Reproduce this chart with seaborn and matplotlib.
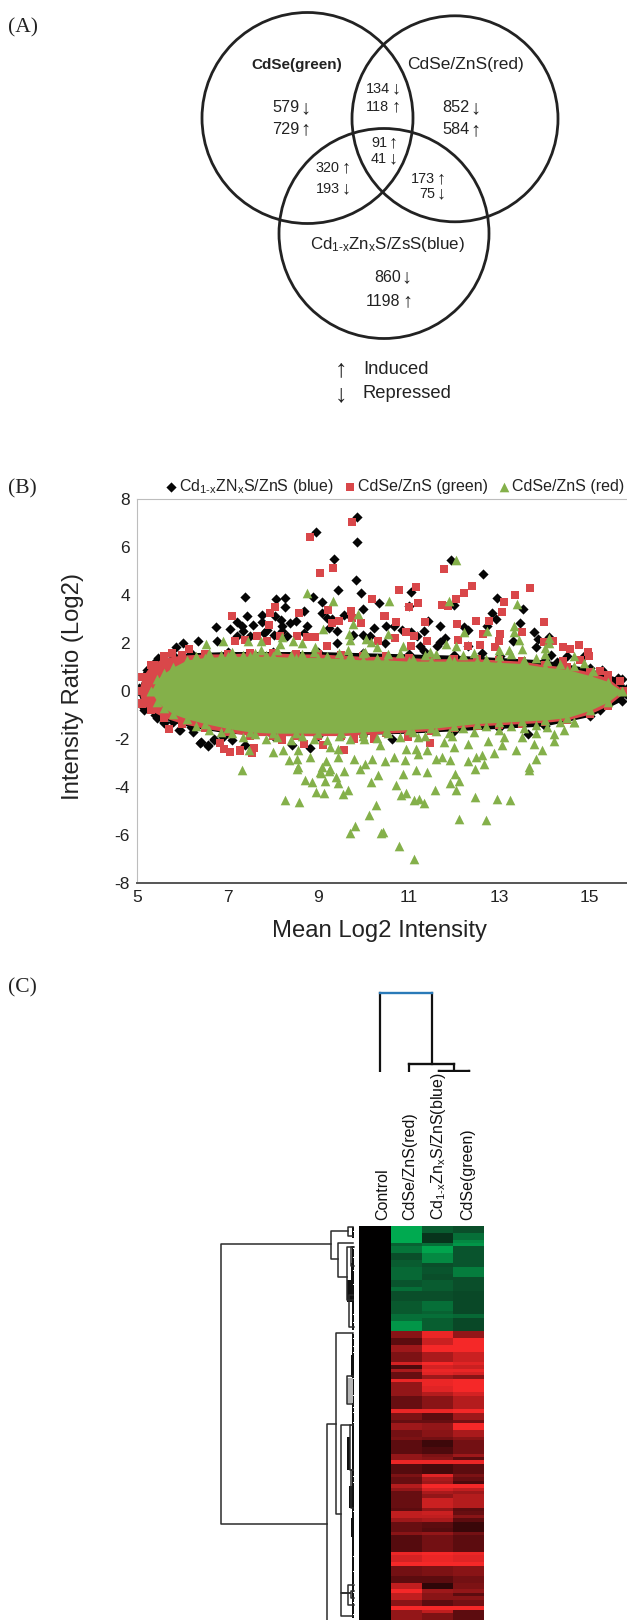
import numpy as np
import seaborn as sns
from matplotlib import pyplot as plt
from matplotlib.colors import LinearSegmentedColormap
from matplotlib.patches import Circle

W, H = 627, 1620

##########################################
# (A) venn counts
##########################################
venn_circles = [(307.5, 118, 105.5), (455, 118.8, 103), (384, 233.5, 105)]
venn_numbers = ["579", "729", "852", "584", "134", "118", "91", "41",
                "320", "193", "173", "75", "860", "1198"]
venn_arrows = ["↓", "↑", "↓", "↑", "↓", "↑", "↑", "↓", "↑", "↓", "↑", "↓", "↓", "↑"]
venn_sizes = [11.7, 11.7, 11.7, 11.7, 10.4, 10.4, 10.4, 10.4,
              10.4, 10.4, 10.4, 10.4, 11.5, 11.5]
venn_num_x = [272, 272, 442, 442, 366, 366, 371, 371, 316, 316, 411, 419, 374, 366]
venn_num_y = [108, 129, 108, 130, 89, 107, 143, 159, 168, 189, 179, 194, 277, 301]

##########################################
# (B) MA plot
##########################################
blue_x = [9.86, 8.95, 9.86, 9.36, 9.84, 9.44, 9.94, 8.89, 9.08, 7.39, 8.06, 8.26, 8.27, 9.99, 8.69, 9.08,
          7.44, 7.75, 6.74, 7.06, 7.21, 7.32, 7.56, 7.76, 8.04, 8.18, 8.21, 8.38, 8.5, 8.75, 9.19, 9.3,
          9.56, 9.71, 9.41, 9.23, 10.24, 10.34, 5.87, 6.02, 6.35, 6.77, 7.21, 7.5, 7.8, 8.02, 8.31, 5.46,
          5.22, 5.15, 5.04, 10.0, 10.15, 9.41, 9.78, 7.35, 7.87, 8.2, 8.68,
          11.93, 12.63, 11.06, 12.96, 12.0, 11.01, 13.52, 12.84, 12.93, 11.43, 11.7, 10.5, 10.67, 13.45,
          12.21, 12.31, 12.73, 11.33, 10.85, 11.04, 11.18, 13.77, 13.85, 13.3, 11.81, 11.7, 11.62, 12.32,
          13.8, 11.26, 11.33, 14.15, 14.49, 14.86, 14.27, 15.27, 15.63, 14.09, 13.02, 12.62, 10.48,
          6.4, 6.56, 5.92, 5.6, 5.44, 5.16, 6.23, 6.69, 6.91, 7.1, 7.39, 6.41, 6.57, 6.7, 5.95, 5.6,
          10.63, 8.82, 8.43, 13.64, 15.22]
blue_y = [7.24, 6.63, 6.2, 5.51, 4.63, 4.2, 4.1, 3.9, 3.7, 3.92, 3.84, 3.88, 3.51, 3.4, 3.33, 3.26,
          3.13, 3.16, 2.67, 2.59, 2.87, 2.7, 2.77, 2.87, 3.12, 2.98, 2.7, 2.84, 2.91, 2.7, 3.05, 3.01,
          3.19, 3.12, 2.49, 2.63, 2.63, 3.65, 1.84, 2.01, 2.08, 2.08, 2.29, 2.29, 2.42, 2.35, 2.29, 1.38,
          0.9, 0.62, 0.13, 2.35, 2.29, 2.01, 2.35, 2.5, 2.56, 2.5, 2.42,
          5.44, 4.88, 4.12, 3.86, 3.6, 3.54, 3.44, 3.26, 3.01, 2.91, 2.73, 2.7, 2.73, 2.84,
          2.67, 2.54, 2.73, 2.49, 2.56, 2.45, 2.29, 2.45, 2.19, 2.08, 2.22, 2.04, 1.87, 1.87,
          1.83, 1.87, 1.66, 1.49, 1.45, 1.45, 1.2, 0.9, 0.55, 2.26, 1.45, 1.6, 2.01,
          -2.16, -2.3, -1.63, -1.33, -1.12, -0.77, -1.68, -2.02, -1.91, -2.02, -2.23, -2.12, -2.26, -1.98, -1.6, -1.29,
          -1.98, -2.36, -2.26, -1.78, -0.8]

green_x = [9.75, 8.83, 9.32, 9.05, 8.05, 8.57, 7.93, 7.1, 9.21, 10.2, 9.73, 9.46, 9.3, 7.91, 9.94, 9.75,
           6.14, 5.77, 5.59, 7.17, 7.39, 7.65, 7.87, 8.16, 8.53, 8.75, 8.94, 9.19, 10.45, 10.33, 5.37, 5.22,
           11.77, 11.15, 10.78, 12.39, 12.21, 12.04, 13.67, 13.35, 13.1, 11.2, 11.0, 11.74, 11.86, 13.07,
           10.47, 10.73, 11.35, 12.07, 12.48, 12.78, 13.99, 13.5, 12.65, 13.01, 10.93, 11.11, 11.4, 12.09,
           12.58, 12.99, 13.98, 14.18, 14.4, 14.75, 14.57, 14.95, 14.99, 14.79, 14.4, 10.7, 11.04, 12.32,
           12.91, 15.23, 15.41, 15.67,
           5.71, 6.84, 6.93, 7.05, 7.27, 7.54, 7.58, 5.07, 7.54, 7.28, 9.11, 9.57, 10.24, 10.24, 10.99,
           11.47, 8.69, 9.8, 8.2]
green_y = [7.04, 6.4, 5.12, 4.9, 3.51, 3.26, 3.24, 3.13, 3.36, 3.84, 3.33, 2.91, 2.84, 2.77, 2.84, 3.05,
           1.76, 1.59, 1.45, 2.08, 2.15, 2.29, 2.08, 2.29, 2.31, 2.26, 2.26, 1.87, 3.12, 2.08, 1.1, 0.34,
           5.1, 4.35, 4.2, 4.38, 4.09, 3.84, 4.29, 4.02, 3.73, 3.67, 3.49, 3.6, 3.54, 3.31,
           3.12, 2.87, 2.87, 2.81, 2.9, 2.9, 2.87, 2.48, 2.4, 2.4, 2.45, 2.31, 2.08, 2.12,
           1.92, 2.08, 2.04, 2.08, 1.84, 1.91, 1.77, 1.63, 1.48, 1.31, 1.24, 2.22, 1.9, 1.87,
           1.83, 0.83, 0.66, 0.41,
           -1.57, -2.16, -2.41, -2.55, -2.51, -2.58, -2.37, -0.5, -2.54, -2.47, -2.26, -2.47, -1.98, -1.7, -1.89,
           -2.17, -2.22, -1.98, -2.05]

red_x = [8.75, 9.33, 9.89, 9.11, 9.78, 9.69, 9.71, 10.05, 10.17, 10.31, 6.52, 6.91, 7.45, 7.73, 8.2, 8.16,
         8.44, 8.64, 8.94, 7.74, 9.65, 10.03,
         12.04, 10.56, 11.88, 13.39, 13.32, 13.32, 12.73, 12.23, 13.43, 14.1, 14.09, 11.83, 10.54, 10.87,
         12.04, 14.01, 14.0, 14.64, 14.88, 15.06, 13.5, 13.21, 11.48, 13.0,
         8.26, 8.58, 9.71, 9.82, 10.13, 10.28, 10.39, 8.71, 8.86, 9.15, 8.96, 9.14, 9.43, 9.4, 9.55, 9.67,
         10.17, 10.32, 9.06, 9.25, 9.56, 8.53, 7.32, 9.92,
         11.11, 10.78, 10.43, 12.12, 12.71, 12.46, 12.96, 13.24, 11.34, 11.12, 11.23, 10.84, 10.95, 10.73,
         11.59, 12.05, 11.92, 12.12, 12.03, 11.4, 10.88, 11.17, 12.47, 13.66,
         7.47, 8.01, 8.22, 8.36, 8.56, 8.53, 8.56, 8.83, 9.18, 9.09, 9.26, 9.04, 9.44, 9.44, 9.79, 10.03,
         10.19, 10.48, 10.68, 10.92, 11.16, 11.21, 11.41, 11.6, 11.74, 11.91, 12.0, 12.31, 12.49, 12.62,
         12.66, 12.89, 13.06, 13.37, 13.65, 13.81, 13.95, 13.77, 14.21, 14.43, 14.21, 13.81, 13.5, 12.75,
         12.31, 11.78, 10.94, 10.37, 10.02, 9.26, 11.21, 11.96, 13.11, 14.65]
red_y = [4.09, 3.74, 3.23, 2.59, 2.8, 2.4, 2.12, 2.19, 2.04, 1.83, 1.98, 2.1, 2.1, 2.1, 2.26, 1.98,
         2.08, 2.01, 1.84, 1.73, 1.73, 1.62,
         5.47, 3.77, 3.76, 3.63, 2.73, 2.45, 2.51, 2.48, 2.12, 2.22, 2.0, 1.95, 2.4, 1.87,
         1.87, 1.8, 1.56, 1.45, 1.17, 0.83, 1.77, 1.7, 1.62, 1.73,
         -4.55, -4.63, -5.91, -5.63, -5.17, -4.73, -5.91, -3.69, -3.77, -3.74, -4.2, -4.23, -3.83, -3.58, -4.27, -4.13,
         -3.78, -3.48, -3.41, -3.31, -3.31, -3.24, -3.27, -3.23,
         -7.0, -6.44, -5.88, -5.34, -5.37, -4.42, -4.48, -4.52, -4.65, -4.52, -4.49, -4.34, -4.24, -3.91,
         -4.1, -4.12, -3.81, -3.76, -3.44, -3.38, -3.45, -3.27, -3.23, -3.27,
         -2.47, -2.54, -2.43, -2.85, -2.47, -2.82, -3.17, -2.75, -2.92, -3.17, -3.24, -3.38, -2.4, -2.75, -2.82, -3.03,
         -2.82, -2.89, -2.75, -2.86, -2.4, -2.61, -2.44, -2.82, -2.75, -2.86, -2.33, -2.89, -2.75, -2.65,
         -3.03, -2.58, -2.26, -2.44, -3.17, -2.82, -2.47, -2.19, -2.06, -1.61, -1.78, -1.75, -1.92, -2.06,
         -2.19, -2.13, -2.4, -2.26, -1.99, -2.33, -1.92, -1.85, -1.92, -1.29]

# outline of the solid cloud of each series
blue_env_x = [5.0, 5.15, 5.4, 5.8, 6.2, 7, 8, 9, 10, 11, 12, 13, 14, 15, 15.7, 15.8]
blue_env_up = [0, 0.65, 1.2, 1.5, 1.6, 1.65, 1.65, 1.65, 1.6, 1.55, 1.5, 1.4, 1.3, 0.95, 0.5, 0.1]
blue_env_lo = [0, -0.7, -1, -1.3, -1.5, -1.75, -1.85, -1.85, -1.8, -1.75, -1.65, -1.55, -1.45, -1.05, -0.4, -0.1]

green_env_x = [5.04, 5.12, 5.3, 5.6, 6.0, 6.5, 7, 7.5, 8, 8.5, 9, 9.5, 10, 10.5, 11, 11.5, 12, 12.5, 13, 13.5,
               14, 14.5, 15, 15.4, 15.76]
green_env_up = [0, 0.6, 1.1, 1.4, 1.5, 1.55, 1.55, 1.6, 1.6, 1.55, 1.55, 1.5, 1.45, 1.45, 1.4, 1.35, 1.35, 1.35,
                1.3, 1.25, 1.1, 1.0, 0.8, 0.55, 0]
green_env_lo = [0, -0.55, -0.8, -1.1, -1.35, -1.55, -1.7, -1.85, -1.85, -1.85, -1.85, -1.85, -1.8, -1.75, -1.7,
                -1.65, -1.55, -1.45, -1.4, -1.35, -1.3, -1.2, -0.95, -0.6, -0.05]

red_env_x = [5.31, 5.45, 5.6, 5.8, 6.1, 6.5, 7, 7.5, 8, 8.5, 9, 9.5, 10, 10.5, 11, 11.5, 12, 12.5, 13, 13.5,
             14, 14.5, 15, 15.4, 15.71]
red_env_up = [0, 0.5, 0.75, 1.0, 1.3, 1.4, 1.45, 1.45, 1.45, 1.4, 1.4, 1.35, 1.3, 1.3, 1.25, 1.25, 1.25, 1.25,
              1.2, 1.15, 1.0, 0.9, 0.65, 0.4, 0]
red_env_lo = [0, -0.45, -0.7, -0.95, -1.15, -1.35, -1.55, -1.7, -1.75, -1.75, -1.75, -1.75, -1.7, -1.65, -1.6, -1.55,
              -1.45, -1.35, -1.3, -1.25, -1.2, -1.1, -0.8, -0.45, 0]

# the jagged edge of the top cloud
spike_x = [6.3, 6.6, 6.85, 7.1, 7.35, 7.6, 7.85, 8.1, 8.4, 8.65, 8.9, 9.2, 9.45, 9.7, 10, 10.3, 10.55, 10.8,
           11.1, 11.35, 11.6, 11.9, 12.2, 12.45, 12.7, 13, 13.25, 13.55, 13.8, 14.05, 14.35, 14.65]
spike_up = [1.45, 1.6, 1.5, 1.65, 1.5, 1.6, 1.5, 1.7, 1.5, 1.55, 1.65, 1.45, 1.6, 1.5, 1.6, 1.4, 1.55, 1.6,
            1.35, 1.5, 1.55, 1.35, 1.5, 1.6, 1.35, 1.45, 1.55, 1.3, 1.4, 1.25, 1.15, 1.05]
spike_lo = [-1.45, -1.6, -1.7, -1.75, -1.9, -1.8, -2.0, -1.9, -2.05, -1.85, -2.0, -2.05, -1.85, -2.0, -1.85,
            -1.95, -1.75, -1.9, -1.7, -1.85, -1.65, -1.75, -1.55, -1.7, -1.45, -1.6, -1.45, -1.55, -1.4, -1.5,
            -1.3, -1.3]

##########################################
# (C) heatmap, log ratios row by row
##########################################
heat_labels = ["Control", "CdSe/ZnS(red)", r"Cd$_{\mathrm{1\text{-}x}}$Zn$_{\mathrm{x}}$S/ZnS(blue)", "CdSe(green)"]
heat_label_pos = [0.76, 1.62, 2.55, 3.46]

col_red = [-1, -1, -1, -1, -1, -.45, -.6, -.6, -.3, -.3, -.4, -.4, -.5, -.5, -.5, -.5, -.35, -.35, -.55,
           -.3, -.3, -.3, -.38, -.38, -.38, -.38, -.55, -.55, -.85, -.85, -.85,
           .5, .5, .3, .3, .6, .6, .45, .45, .45, .85, .25, .65, .35, .35, .95, .55, .55, .55, .55,
           .35, .35, .35, .35, .95, .45, .45,
           .35, .6, .6, .4, .4, .45, .3, .3, .3, .3, .55, .55, .95, .28, .28, .28, .45, .35, .35, .7, .55,
           .35, .35, .35, .35, .35, .3, .75, .75, .6, .35, .35, .35, .5, .28, .28, .28, .28, .28, .95,
           .85, .85, 1, .4, .4, .4, .3, .3, .75, .75, 1, .75, .75, .5, .5, 1, .55, .55, .55]
col_blue = [-.4, -.4, -.2, -.2, -.2, -.55, -.95, -.95, -.75, -.75, -.75, -.3, -.35, -.35, -.3, -.3, -.4, -.4, -.4,
            -.3, -.3, -.3, -.55, -.55, -.55, -.45, -.55, -.42, -.42, -.42, -.42,
            .95, .95, .8, .8, 1, 1, .65, .65, .65, 1, .85, .95, .9, .6, .95, .95, .9, .9, .7,
            .5, .5, .5, .5, .95, .3, .3,
            .35, .55, .55, .5, .5, .4, .2, .2, .25, .25, .45, .5, .95, .22, .22, .22, .9, .65, .6, 1, .85,
            .65, .55, .8, .8, .8, .55, .8, .75, .65, .3, .3, .28, .55, .4, .4, .4, .4, .4, 1,
            .95, .95, 1, .45, .45, .45, .3, .3, .15, .15, .6, .5, .5, .3, .3, 1, .75, .45, .45]
col_green = [-.3, -.3, -.55, -.55, -.75, -.85, -.35, -.35, -.35, -.35, -.35, -.35, -.65, -.65, -.65, -.3, -.3, -.3, -.3,
             -.28, -.28, -.28, -.28, -.28, -.28, -.28, -.5, -.28, -.28, -.28, -.28,
             .55, .55, 1, 1, 1, 1, .8, .8, .8, .9, .8, .95, .85, .5, 1, 1, 1, 1, .85,
             .7, .7, .7, .7, 1, .6, .6,
             .4, 1, 1, .65, .65, .5, .4, .4, .4, .4, .6, .3, .95, .3, .3, .3, .45, .35, .25, 1, .75,
             .6, .7, .7, .7, .7, .3, .35, .5, .3, .18, .18, .18, .4, .3, .3, .3, .3, .3, .95,
             .9, .9, 1, .5, .5, .5, .4, .4, .45, .45, .55, .3, .5, .4, .4, 1, .3, .3, .3]
col_control = [0.0] * len(col_red)

# dendrogram merges: (height, pos a, child height a, pos b, child height b)
top_nodes = [(79.3, 21, 0, 72.4, 8), (8, 50, 0, 94.7, 1.5), (1.5, 79.4, 0, 109.7, 0)]
top_colors = ["#2A7AB8", "#111111", "#111111"]
row_nodes = [(138.3, 18, 28.6, 297.5, 32.6), (28.6, 5, 11, 33, 21.6), (21.6, 17, 6, 51, 12.3),
             (32.6, 198, 23.3, 430, 0), (23.3, 107, 6, 288, 18.6), (18.6, 199, 9, 367, 9), (18.6, 367, 9, 390, 6),
             (11, 1, 6, 10, 6), (12.3, 21, 6, 74, 6), (10.5, 69, 6, 101, 5), (8.5, 21, 5, 40, 5),
             (12, 150, 6, 178, 6), (11, 359, 5, 379, 5), (8, 365, 5, 372, 5), (9, 199, 6, 244, 6), (8, 244, 6, 282, 6)]
# (height low, height high, pos top, pos bottom, colour) where leaves pack together
row_blocks = [(5.3, 7, 1, 12, "#111111"), (5.3, 7, 20, 104, "#111111"), (5.3, 7, 107, 392, "#111111"),
              (6, 8.6, 37, 54, "#111111"), (6, 12, 54, 76, "#111111"), (5.3, 8.6, 129, 151, "#111111"),
              (6, 12, 152, 177, "#b5b5b5"), (5.3, 7.6, 196, 211, "#111111"), (9.3, 12, 211, 244, "#111111"),
              (5.3, 10, 260, 282, "#111111"), (5.3, 8.6, 292, 311, "#111111"), (6, 7.6, 311, 329, "#111111")]
row_gaps = [5, 14, 22, 31, 44, 58, 88, 96, 107, 112, 120, 126, 152, 169, 181, 186, 196, 250, 256, 285, 330, 345,
            358, 366, 376, 388]

##########################################
plt.rcParams["font.family"] = ["Liberation Sans", "DejaVu Sans"]
plt.rcParams["mathtext.fontset"] = "custom"
plt.rcParams["mathtext.rm"] = "Liberation Sans"
plt.rcParams["mathtext.default"] = "rm"
plt.rcParams["text.color"] = "#222222"
plt.rcParams["axes.unicode_minus"] = False

fig = plt.figure(figsize=(W / 100, H / 100), dpi=100)


def box(left, top, right, bottom):
    return [left / W, 1 - bottom / H, (right - left) / W, (bottom - top) / H]


page = fig.add_axes([0, 0, 1, 1])
page.set_xlim(0, W)
page.set_ylim(H, 0)
page.axis("off")

for label, y in zip(["(A)", "(B)", "(C)"], [28, 489, 988]):
    page.text(8, y, label, family="Liberation Serif", fontsize=15.5, va="center", ha="left")

# (A)
for cx, cy, r in venn_circles:
    page.add_patch(Circle((cx, cy), r, fill=False, ec="#222222", lw=2.0))
for txt, arrow, size, x, y in zip(venn_numbers, venn_arrows, venn_sizes, venn_num_x, venn_num_y):
    page.text(x, y, txt, fontsize=size, ha="left", va="center")
    # arrow sits just after the digits
    page.text(x + len(txt) * 0.556 * size * 100 / 72 + 6, y, arrow, fontsize=size * 1.25, ha="center", va="center")
page.text(297, 65, "CdSe(green)", fontsize=11, fontweight="bold", ha="center", va="center")
page.text(465.6, 65, "CdSe/ZnS(red)", fontsize=12.5, ha="center", va="center")
page.text(387, 244, r"Cd$_{\mathrm{1\text{-}x}}$Zn$_{\mathrm{x}}$S/ZsS(blue)", fontsize=12.2, ha="center", va="center")
page.text(341, 369, "↑", fontsize=18, ha="center", va="center")
page.text(341, 394, "↓", fontsize=18, ha="center", va="center")
page.text(363, 369, "Induced", fontsize=13.2, ha="left", va="center")
page.text(363, 394, "Repressed", fontsize=13.2, ha="left", va="center")

# (B)
ax = fig.add_axes(box(137, 499, 627, 883.3))
black, red, green = "#050505", "#D9474A", "#84B04A"
ax.fill_between(blue_env_x, blue_env_lo, blue_env_up, color=black, lw=0)
sns.scatterplot(x=blue_x + blue_env_x + blue_env_x, y=blue_y + blue_env_up + blue_env_lo, marker="D", s=27,
                color=black, linewidth=0, ax=ax, label=r"Cd$_{\mathrm{1\text{-}x}}$ZN$_{\mathrm{x}}$S/ZnS (blue)")
ax.fill_between(green_env_x, green_env_lo, green_env_up, color=red, lw=0)
sns.scatterplot(x=green_x + green_env_x + green_env_x, y=green_y + green_env_up + green_env_lo, marker="s", s=27,
                color=red, linewidth=0, ax=ax, label="CdSe/ZnS (green)")
ax.fill_between(red_env_x, red_env_lo, red_env_up, color=green, lw=0)
sns.scatterplot(x=red_x + red_env_x + red_env_x + spike_x + spike_x,
                y=red_y + red_env_up + red_env_lo + spike_up + spike_lo, marker="^", s=48,
                color=green, linewidth=0, ax=ax, label="CdSe/ZnS (red)")
ax.set_xlim(5, 15.82)
ax.set_ylim(-8, 8)
ax.set_xticks([5, 7, 9, 11, 13, 15])
ax.set_yticks(range(-8, 9, 2))
ax.tick_params(length=0, labelsize=12.5, colors="#222222", pad=5)
ax.spines["right"].set_visible(False)
ax.spines["left"].set_color("#bdbdbd")
ax.spines["top"].set_color("#bdbdbd")
ax.spines["bottom"].set_color("#555555")
ax.spines["bottom"].set_linewidth(1.4)
ax.set_xlabel("")
ax.set_ylabel("")
page.text(379, 931, "Mean Log2 Intensity", fontsize=17.2, ha="center", va="center")
page.text(73, 687, "Intensity Ratio (Log2)", fontsize=17.2, rotation=90, ha="center", va="center")
ax.legend(loc="lower right", bbox_to_anchor=(0.995, 1.008), ncol=3, frameon=False, fontsize=11.5, borderpad=0,
          borderaxespad=0, handlelength=0.5, handletextpad=0.3, columnspacing=0.7)

# (C)
matrix = np.array([col_control, col_red, col_blue, col_green]).T
cmap = LinearSegmentedColormap.from_list("gbr", [(0, "#00AA50"), (0.35, "#0A4E2A"), (0.5, "#000000"),
                                                 (0.65, "#5C0C0F"), (1, "#F52828")])
hm = fig.add_axes(box(359.3, 1226, 484.3, 1620))
sns.heatmap(matrix, cmap=cmap, vmin=-1, vmax=1, cbar=False, xticklabels=False, yticklabels=False, ax=hm)
hm.xaxis.tick_top()
hm.set_xticks(heat_label_pos)
hm.set_xticklabels(heat_labels, rotation=90, fontsize=11.5, color="#111111")
hm.tick_params(length=0, pad=4)

top = fig.add_axes(box(359.3, 985, 484.3, 1072))
top.set_xlim(0, 125)
top.set_ylim(0, 87)
top.axis("off")
for (h, a, ca, b, cb), color in zip(top_nodes, top_colors):
    top.plot([a, a], [ca, h], color="#111111", lw=1.6)
    top.plot([b, b], [cb, h], color="#111111", lw=1.6)
    top.plot([a, b], [h, h], color=color, lw=1.7)

side = fig.add_axes(box(215, 1226, 359.3, 1620))
side.set_xlim(144.3, 0)
side.set_ylim(394, 0)
side.axis("off")
for h, a, ca, b, cb in row_nodes:
    side.plot([ca, h, h, cb], [a, a, b, b], color="#2b2b2b", lw=1.1)
for lo, hi, p0, p1, color in row_blocks:
    side.fill_betweenx([p0, p1], lo, hi, color=color, lw=0)
for p in row_gaps:
    side.fill_betweenx([p, p + 1.2], 3, 6.4, color="white", lw=0)

fig.savefig("out.png", dpi=100)
